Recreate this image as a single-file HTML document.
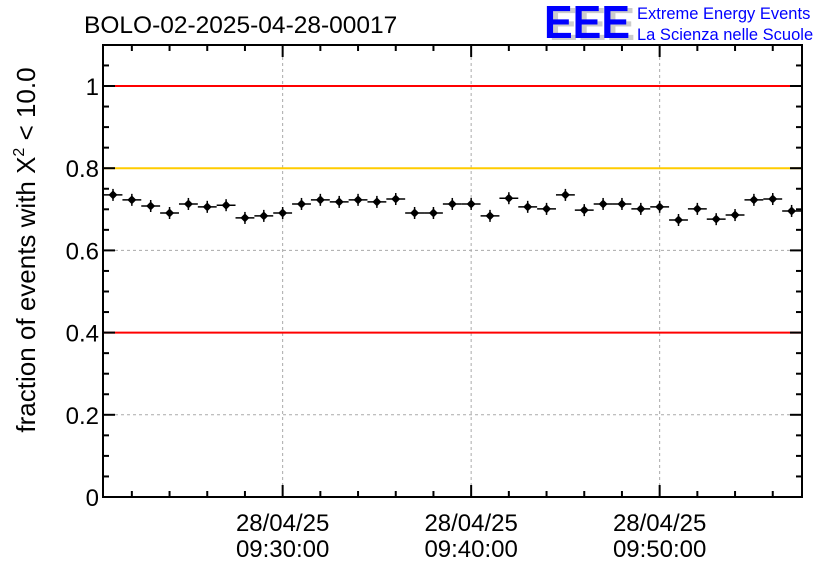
<!DOCTYPE html>
<html><head><meta charset="utf-8"><style>html,body{margin:0;padding:0;background:#fff}svg{display:block}text{font-family:"Liberation Sans",sans-serif}</style></head>
<body>
<svg id="chart" width="836" height="572" xmlns="http://www.w3.org/2000/svg">
<rect width="836" height="572" fill="#fff"/>
<text x="84" y="33" font-size="24.5">BOLO-02-2025-04-28-00017</text>
<g>
<text x="549" y="40" font-size="46" font-weight="bold" fill="#ccc" textLength="86" lengthAdjust="spacingAndGlyphs">EEE</text>
<text x="544" y="38" font-size="46" font-weight="bold" fill="#0000ff" textLength="86" lengthAdjust="spacingAndGlyphs">EEE</text>
<text x="637" y="19" font-size="16.5" fill="#0000ff">Extreme Energy Events</text>
<text x="637" y="40" font-size="16.5" fill="#0000ff">La Scienza nelle Scuole</text>
</g>
<g id="grid"></g><g id="lines"></g><g id="marks"></g><g id="axes"></g>
<text transform="translate(35,250) rotate(-90)" text-anchor="middle" font-size="26">fraction of events with X<tspan dy="-11" font-size="16">2</tspan><tspan dy="11"> &lt; 10.0</tspan></text>
</svg>
<script>
const minutes=[0,1,2,3,4,5,6,7,8,9,10,11,12,13,14,15,16,17,18,19,20,21,22,23,24,25,26,27,28,29,30,31,32,33,34,35,36];
const values=[0.735,0.723,0.708,0.691,0.713,0.706,0.710,0.679,0.684,0.691,0.713,0.723,0.718,0.723,0.718,0.725,0.691,0.691,0.713,0.713,0.684,0.727,0.706,0.701,0.735,0.698,0.713,0.713,0.701,0.706,0.674,0.701,0.676,0.686,0.723,0.725,0.696];
const yTicks=[0,0.2,0.4,0.6,0.8,1];
const yTickLabels=["0","0.2","0.4","0.6","0.8","1"];
const xTicks=[10,20,30];
const xTickLabels=[["28/04/25","09:30:00"],["28/04/25","09:40:00"],["28/04/25","09:50:00"]];
const refLines=[{v:1,c:"#ff0000"},{v:0.8,c:"#ffcc00"},{v:0.4,c:"#ff0000"}];
const L=103,R=802,T=45,B=497;
const pxPerMin=18.85, x0=113;
const X=m=>x0+m*pxPerMin;
const Y=v=>B-v*411;
const NS="http://www.w3.org/2000/svg";
function mk(tag,attrs,parent){const e=document.createElementNS(NS,tag);for(const k in attrs)e.setAttribute(k,attrs[k]);document.getElementById(parent).appendChild(e);return e;}
yTicks.forEach((v,i)=>{if(v>0&&v<1){const g=mk('line',{x1:L,x2:R,y1:Y(v),y2:Y(v),stroke:'#aaa','stroke-dasharray':'3,3'},'grid');}});
xTicks.forEach(m=>{const g=mk('line',{x1:X(m-1),x2:X(m-1),y1:T,y2:B,stroke:'#aaa','stroke-dasharray':'3,3'},'grid');});
refLines.forEach(r=>{const l=mk('line',{x1:L,x2:R,y1:Y(r.v),y2:Y(r.v),stroke:r.c,'stroke-width':2},'lines');});
minutes.forEach((m,i)=>{const cx=X(m),cy=Y(values[i]);
const g=document.createElementNS(NS,'g');document.getElementById('marks').appendChild(g);


const h=document.createElementNS(NS,'line');h.setAttribute('x1',cx-pxPerMin/2);h.setAttribute('x2',cx+pxPerMin/2);h.setAttribute('y1',cy);h.setAttribute('y2',cy);h.setAttribute('stroke','#000');h.setAttribute('stroke-width','1.5');g.appendChild(h);
const v=document.createElementNS(NS,'line');v.setAttribute('x1',cx);v.setAttribute('x2',cx);v.setAttribute('y1',cy-6);v.setAttribute('y2',cy+6);v.setAttribute('stroke','#000');v.setAttribute('stroke-width','1.5');g.appendChild(v);
const d=document.createElementNS(NS,'path');d.setAttribute('d',`M${cx-4.5},${cy}L${cx},${cy-4.5}L${cx+4.5},${cy}L${cx},${cy+4.5}Z`);d.setAttribute('fill','#000');g.appendChild(d);});
const f=mk('rect',{x:L,y:T,width:R-L,height:B-T,fill:'none',stroke:'#000','stroke-width':2},'axes');
for(let k=0;k<=22;k++){const v=k*0.05,y=Y(v);if(y<T)break;const major=k%4===0,len=major?12:6;
mk('line',{x1:L,x2:L+len,y1:y,y2:y,stroke:'#000','stroke-width':2},'axes');mk('line',{x1:R,x2:R-len,y1:y,y2:y,stroke:'#000','stroke-width':2},'axes');}
yTicks.forEach((v,i)=>{const t=mk('text',{x:L-4,y:Y(v)+9,'text-anchor':'end','font-size':24},'axes');t.textContent=yTickLabels[i];});
for(let m=-10;m<=50;m+=2){const x=X(m-1);if(x<=L+1||x>=R-1)continue;const major=(m%10===0),len=major?12:6;
mk('line',{x1:x,x2:x,y1:B,y2:B-len,stroke:'#000','stroke-width':2},'axes');mk('line',{x1:x,x2:x,y1:T,y2:T+len,stroke:'#000','stroke-width':2},'axes');}
xTicks.forEach((m,i)=>{const x=X(m-1);xTickLabels[i].forEach((s,j)=>{const t=mk('text',{x:x,y:531+j*26,'text-anchor':'middle','font-size':24},'axes');t.textContent=s;});});
</script>
</body></html>
